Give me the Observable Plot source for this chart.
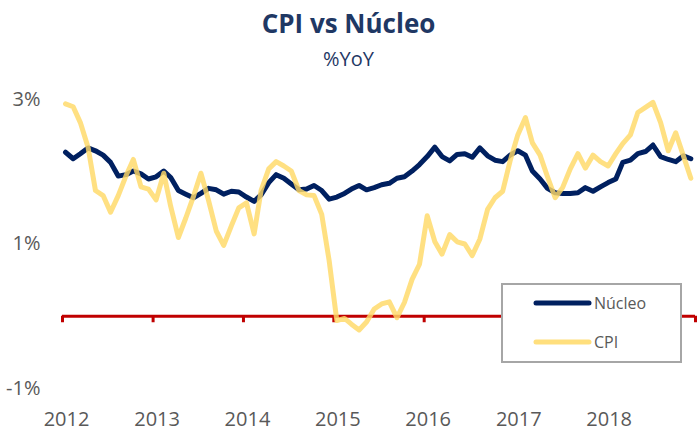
<!DOCTYPE html>
<html>
<head>
<meta charset="utf-8">
<script src="https://cdn.jsdelivr.net/npm/d3@7"></script>
<script src="https://cdn.jsdelivr.net/npm/@observablehq/plot@0.6"></script>
<style>
  html, body { margin: 0; padding: 0; background: #fff; }
  #wrap { position: relative; width: 697px; height: 432px; overflow: hidden; font-family: "Open Sans", sans-serif; }
  #head { position: relative; height: 80px; }
  #title { position: absolute; left: 0; width: 697px; top: 10px; text-align: center; font-size: 26px; line-height: 1; font-weight: 700; color: #1f3864; }
  #subtitle { position: absolute; left: 0; width: 697px; top: 49px; text-align: center; font-size: 20px; line-height: 1; color: #1f3864; }
  #legend { position: absolute; left: 501px; top: 283px; width: 177px; height: 76px; border: 2px solid #a6a6a6; background: #fff; }
  #legend svg { display: block; }
</style>
</head>
<body>
<div id="wrap">
  <div id="head"><div id="title">CPI vs Núcleo</div><div id="subtitle">%YoY</div></div>
  <div id="chart"></div>
  <div id="legend"></div>
</div>
<script>
// Monthly series, Jan 2012 – Dec 2018 (% YoY)
const startMonth = "2012-01-01";
const endMonth = "2019-01-01";
const seriesNames = ["Núcleo", "CPI"];
const seriesColors = ["#002060", "#ffd966"];
const nucleo = [2.27,2.18,2.25,2.33,2.29,2.23,2.13,1.94,1.96,2.01,1.97,1.90,
  1.93,2.01,1.92,1.74,1.69,1.64,1.70,1.77,1.75,1.69,1.73,1.72,
  1.65,1.59,1.68,1.85,1.96,1.91,1.83,1.75,1.76,1.81,1.74,1.62,
  1.65,1.70,1.76,1.81,1.75,1.78,1.82,1.84,1.91,1.93,2.01,2.10,
  2.21,2.34,2.21,2.15,2.24,2.25,2.20,2.33,2.22,2.16,2.14,2.23,
  2.29,2.23,2.01,1.90,1.77,1.71,1.70,1.70,1.71,1.78,1.73,1.79,
  1.85,1.90,2.13,2.16,2.25,2.28,2.37,2.21,2.17,2.14,2.22,2.18];
const cpi = [2.94,2.90,2.68,2.34,1.74,1.67,1.44,1.67,1.94,2.17,1.79,1.76,
  1.61,1.98,1.52,1.09,1.36,1.66,1.98,1.60,1.18,0.98,1.25,1.50,
  1.57,1.14,1.74,2.04,2.14,2.08,2.01,1.74,1.68,1.67,1.41,0.77,
  -0.06,-0.03,-0.11,-0.19,-0.08,0.10,0.17,0.20,-0.02,0.19,0.51,0.72,
  1.39,1.03,0.86,1.13,1.03,1.00,0.84,1.07,1.48,1.64,1.73,2.15,
  2.51,2.75,2.40,2.23,1.93,1.64,1.78,2.04,2.25,2.05,2.23,2.14,
  2.08,2.25,2.39,2.51,2.82,2.89,2.96,2.68,2.29,2.54,2.22,1.91];
const yTicks = [-1, 1, 3];
const yearLabels = [2012, 2013, 2014, 2015, 2016, 2017, 2018];
const yearTickMarks = [2012, 2013, 2014, 2015, 2016, 2017, 2018, 2019];

const months = d3.utcMonth.range(new Date(startMonth), new Date(endMonth));
const nucleoData = months.map((d, i) => ({date: d, value: nucleo[i]}));
const cpiData = months.map((d, i) => ({date: d, value: cpi[i]}));
const yearDate = y => new Date(Date.UTC(y, 0, 1));

const chart = Plot.plot({
  width: 697,
  height: 352,
  marginLeft: 62,
  marginRight: 2,
  marginTop: 19,
  marginBottom: 44,
  style: {fontFamily: "'Open Sans', sans-serif", fontSize: "20px", color: "#595959", background: "#fff", overflow: "visible"},
  x: {type: "utc", domain: [new Date(startMonth), new Date(endMonth)]},
  y: {domain: [-1, 3]},
  marks: [
    Plot.axisY({ticks: yTicks, tickFormat: d => d + "%", tickSize: 0, tickPadding: 22, label: null, fontSize: 20}),
    Plot.axisX({ticks: yearLabels.map(yearDate), tickFormat: d3.utcFormat("%Y"), tickSize: 0, tickPadding: 23, dx: 4, label: null, fontSize: 20}),
    Plot.ruleY([0], {stroke: "#c00000", strokeWidth: 3}),
    Plot.ruleX(yearTickMarks.map(yearDate), {y1: 0, y2: -0.09, stroke: "#c00000", strokeWidth: 3}),
    Plot.line(nucleoData, {x: "date", y: "value", stroke: seriesColors[0], strokeWidth: 5, dx: 3, strokeLinejoin: "round", strokeLinecap: "round"}),
    Plot.line(cpiData, {x: "date", y: "value", stroke: seriesColors[1], strokeWidth: 5, strokeOpacity: 0.82, dx: 3, strokeLinejoin: "round", strokeLinecap: "round"})
  ]
});
document.getElementById("chart").appendChild(chart);

// Legend
const leg = d3.select("#legend").append("svg").attr("width", 177).attr("height", 76);
seriesNames.forEach((name, i) => {
  const y = 18 + i * 39;
  leg.append("line").attr("x1", 33).attr("x2", 86).attr("y1", y).attr("y2", y)
    .attr("stroke", seriesColors[i]).attr("stroke-width", 5).attr("stroke-linecap", "round")
    .attr("stroke-opacity", i === 1 ? 0.85 : 1);
  leg.append("text").attr("x", 91).attr("y", y).attr("dy", "0.35em")
    .attr("font-family", "'Open Sans', sans-serif").attr("font-size", 16).attr("fill", "#595959").text(name);
});
</script>
</body>
</html>
